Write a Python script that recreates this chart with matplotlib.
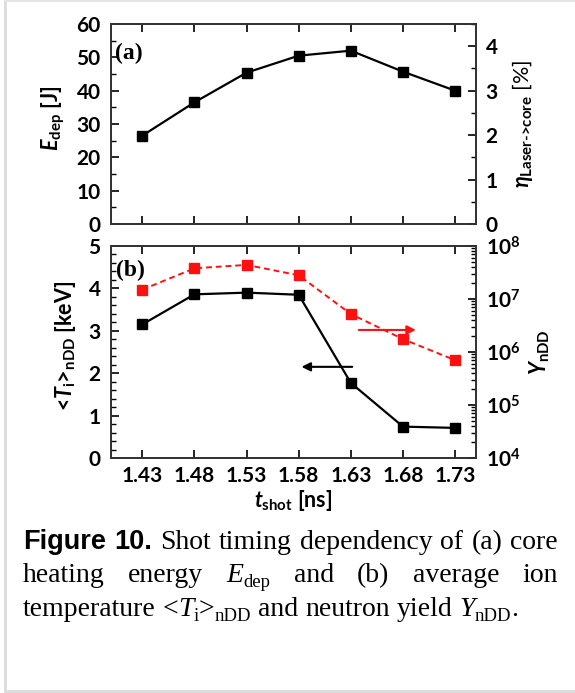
import math
import matplotlib
matplotlib.use("Agg")
import matplotlib.pyplot as plt
from matplotlib.ticker import MultipleLocator, LogLocator, NullFormatter, FixedLocator, FuncFormatter
from matplotlib.font_manager import FontProperties
from matplotlib.lines import Line2D

# data
t_shot = [1.43, 1.48, 1.53, 1.58, 1.63, 1.68, 1.73]
t_labels = ["1.43", "1.48", "1.53", "1.58", "1.63", "1.68", "1.73"]
e_dep = [26.5, 36.5, 45.4, 50.5, 52.0, 45.7, 40.0]
ti_ndd = [3.15, 3.86, 3.90, 3.85, 1.77, 0.74, 0.71]
y_ndd = [1.5e7, 3.8e7, 4.4e7, 2.8e7, 5.2e6, 1.75e6, 7.0e5]

W, H = 575, 693

plt.rcParams.update({
    "font.family": ["Lato", "DejaVu Sans"],
    "font.weight": "bold",
    "font.size": 15,
    "axes.labelsize": 15.5,
    "axes.labelweight": "bold",
    "mathtext.fontset": "custom",
    "mathtext.rm": "Lato:bold",
    "mathtext.it": "Lato:italic:bold",
    "mathtext.bf": "Lato:bold",
    "xtick.direction": "in",
    "ytick.direction": "in",
    "xtick.major.size": 6,
    "ytick.major.size": 6,
    "xtick.minor.size": 3.5,
    "ytick.minor.size": 3.5,
    "xtick.major.width": 1.2,
    "ytick.major.width": 1.2,
    "ytick.minor.width": 1.0,
    "axes.linewidth": 1.3,
    "axes.edgecolor": "#333333",
})

fig = plt.figure(figsize=(W / 100, H / 100), dpi=100)


def box(x0, y0, x1, y1):
    return [x0 / W, 1 - y1 / H, (x1 - x0) / W, (y1 - y0) / H]


ax_a = fig.add_axes(box(111, 24, 476, 224))
ax_b = fig.add_axes(box(111, 246, 476, 458))

for ax in (ax_a, ax_b):
    ax.set_xlim(1.40, 1.75)
    ax.xaxis.set_major_locator(FixedLocator(t_shot))
    ax.tick_params(axis="x", top=True, bottom=True, pad=6)
    ax.tick_params(axis="y", which="both", left=True, right=False, pad=7.5)

# (a)
ax_a.plot(t_shot, e_dep, "-s", color="black", lw=1.6, ms=6.5)
ax_a.set_ylim(0, 60)
ax_a.yaxis.set_major_locator(MultipleLocator(10))
ax_a.yaxis.set_minor_locator(MultipleLocator(5))
ax_a.set_xticklabels([])
ax_a.set_ylabel(r"$E_{\mathrm{dep}}$ [J]")
ax_a.yaxis.set_label_coords(-0.12, 0.53)
ax_a.text(0.011, 0.855, "(a)", transform=ax_a.transAxes, family="Liberation Serif",
          fontsize=17, fontweight="bold", va="center")

ax_a2 = ax_a.twinx()
ax_a2.set_ylim(0, 4.5)
ax_a2.yaxis.set_major_locator(MultipleLocator(1))
ax_a2.yaxis.set_minor_locator(MultipleLocator(0.5))
ax_a2.tick_params(axis="y", which="both", direction="in", pad=7)
ax_a2.set_ylabel(r"$\eta_{\text{Laser->core}}$ [%]", fontweight="normal")
ax_a2.yaxis.set_label_coords(1.093, 0.5)

# (b)
ax_b.plot(t_shot, ti_ndd, "-s", color="black", lw=1.6, ms=6.5, zorder=3)
ax_b.set_ylim(0, 5)
ax_b.yaxis.set_major_locator(MultipleLocator(1))
ax_b.yaxis.set_minor_locator(MultipleLocator(0.2))
ax_b.set_xticklabels(t_labels)
ax_b.set_ylabel(r"<$T_{\mathregular{i}}$>$_{\mathrm{nDD}}$ [keV]")
ax_b.yaxis.set_label_coords(-0.09, 0.53)
ax_b.set_xlabel(r"$t_{\mathrm{shot}}$ [ns]", labelpad=1)
ax_b.text(0.015, 0.887, "(b)", transform=ax_b.transAxes, family="Liberation Serif",
          fontsize=17, fontweight="bold", va="center")

ax_b2 = ax_b.twinx()
ax_b2.plot(t_shot, y_ndd, "--s", color="#ff1010", lw=1.4, ms=6.5, dashes=(3, 2))
ax_b2.set_yscale("log")
ax_b2.set_ylim(1e4, 1e8)
ax_b2.yaxis.set_major_locator(LogLocator(base=10, numticks=10))
ax_b2.yaxis.set_minor_locator(LogLocator(base=10, subs=range(2, 10), numticks=20))
ax_b2.yaxis.set_minor_formatter(NullFormatter())
ax_b2.yaxis.set_major_formatter(FuncFormatter(lambda v, p: r"$\mathbf{10^{%d}}$" % round(math.log10(v))))
ax_b2.tick_params(axis="y", which="both", direction="in", pad=7)
ax_b2.set_ylabel(r"$Y_{\mathrm{nDD}}$")
ax_b2.yaxis.set_label_coords(1.142, 0.5)

# direction arrows
ax_b.annotate("", xy=(1.580, 2.15), xytext=(1.634, 2.15),
              arrowprops=dict(arrowstyle="-|>", color="black", lw=1.5, mutation_scale=13))
ax_b.annotate("", xy=(1.695, 3.02), xytext=(1.635, 3.02),
              arrowprops=dict(arrowstyle="-|>", color="#ff1010", lw=1.5, mutation_scale=13))

# caption
sans_b = FontProperties(family="Liberation Sans", weight="bold", size=19.5)
serif = FontProperties(family="Liberation Serif", weight="normal", size=20)
serif_i = FontProperties(family="Liberation Serif", weight="normal", style="italic", size=20)
serif_s = FontProperties(family="Liberation Serif", weight="normal", size=13.5)

renderer = fig.canvas.get_renderer()


def run_width(text, fp):
    t = fig.text(0, 0, text, fontproperties=fp)
    w = t.get_window_extent(renderer).width
    t.remove()
    return w


def word_width(word):
    return sum(run_width(s, fp) for s, fp, dy in word)


def draw_word(word, x, y):
    for s, fp, dy in word:
        fig.text(x / W, 1 - (y + dy) / H, s, fontproperties=fp, va="baseline", ha="left")
        x += run_width(s, fp)


def draw_line(words, x0, x1, y, justify):
    widths = [word_width(w) for w in words]
    if justify:
        gap = (x1 - x0 - sum(widths)) / (len(words) - 1)
    else:
        gap = run_width("a a", serif) - run_width("aa", serif)
    x = x0
    for w, wd in zip(words, widths):
        draw_word(w, x, y)
        x += wd + gap


def plain(s):
    return [(s, serif, 0)]


line1 = [[("Figure", sans_b, 0)], [("10.", sans_b, 0)]] + [plain(s) for s in
                                                          "Shot timing dependency of (a) core".split()]
line2 = [plain("heating"), plain("energy"), [("E", serif_i, 0), ("dep", serif_s, 5)],
         plain("and"), plain("(b)"), plain("average"), plain("ion")]
line3 = [plain("temperature"),
         [("<", serif, 0), ("T", serif_i, 0), ("i", serif_s, 5), (">", serif, 0), ("nDD", serif_s, 5)],
         plain("and"), plain("neutron"), plain("yield"),
         [("Y", serif_i, 0), ("nDD", serif_s, 5), (".", serif, 0)]]

draw_line(line1, 23, 558, 549, True)
draw_line(line2, 23, 558, 582, True)
draw_line(line3, 23, 558, 616, False)

# light frame around the figure panel
fig.add_artist(Line2D([5 / W, 5 / W], [1 - 1 / H, 1 - 691 / H], color="#dcdcdc", lw=2,
                      transform=fig.transFigure))
fig.add_artist(Line2D([5 / W, 1], [1 - 691 / H, 1 - 691 / H], color="#dcdcdc", lw=2,
                      transform=fig.transFigure))
fig.add_artist(Line2D([5 / W, 1], [1 - 1 / H, 1 - 1 / H], color="#e4e4e4", lw=1.5,
                      transform=fig.transFigure))

fig.savefig("out.png", dpi=100)
